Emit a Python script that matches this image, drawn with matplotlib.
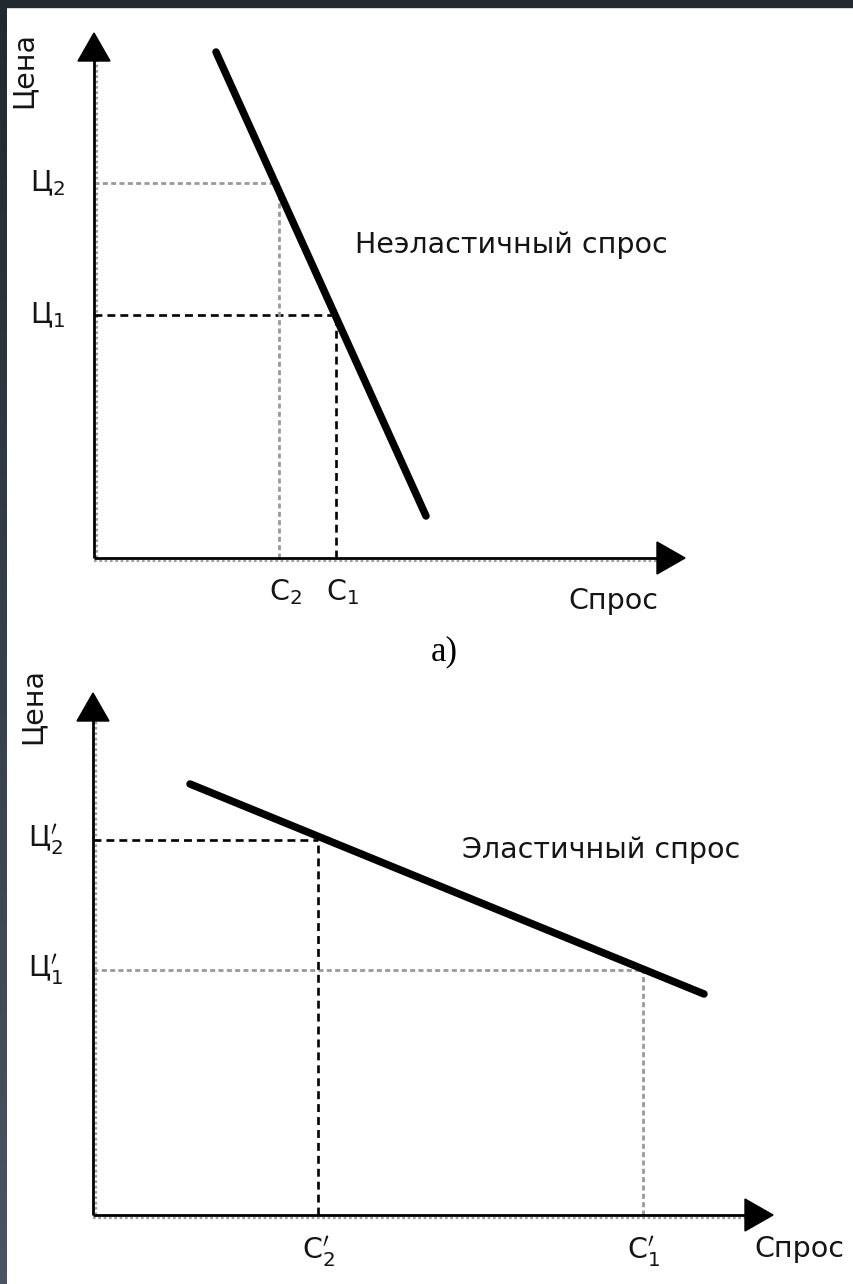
import numpy as np
import matplotlib
matplotlib.use("Agg")
import matplotlib.pyplot as plt
from matplotlib.patches import Polygon, Rectangle
from matplotlib.colors import LinearSegmentedColormap

FIG_W, FIG_H, DPI = 854, 1284, 100

# ---- panel a): inelastic demand (units measured from the panel origin) ----
a_demand_q = [122, 332]          # demand line end points, quantity
a_demand_p = [506, 42]           # demand line end points, price
a_price = [243, 375]             # Ц1, Ц2
a_qty = [242, 185]               # С1, С2
a_price_labels = ["Ц$_1$", "Ц$_2$"]
a_qty_labels = ["С$_1$", "С$_2$"]
a_curve_label = "Неэластичный спрос"
a_caption = "а)"

# ---- panel b): elastic demand ----
b_demand_q = [97, 611]
b_demand_p = [431, 221]
b_price = [245, 375]             # Ц1', Ц2'
b_qty = [550, 225]               # С1', С2'
b_price_labels = ["Ц$_1^{\\prime}$", "Ц$_2^{\\prime}$"]
b_qty_labels = ["С$_1^{\\prime}$", "С$_2^{\\prime}$"]
b_curve_label = "Эластичный спрос"

y_title = "Цена"
x_title = "Спрос"

plt.rcParams["font.family"] = ["DejaVu Sans"]
FS = 20.5
TXT = "#151515"
HEAD_LEN, HEAD_HALF = 28, 16

# guide line styles: black dashed / grey dotted
BLACK_DASH = dict(color="black", lw=1.9, ls=(0, (3.0, 1.9)))
GREY_DOT = dict(color="#999999", lw=2.0, ls=(0, (1.8, 1.2)))


def panel_axes(fig, ox, oy, w, h):
    """Axes whose data units are pixels, origin at (ox, oy) in image coords."""
    ax = fig.add_axes([ox / FIG_W, (FIG_H - oy) / FIG_H, w / FIG_W, h / FIG_H])
    ax.set_xlim(0, w)
    ax.set_ylim(0, h)
    ax.axis("off")
    return ax


def draw_frame(ax, x_len, y_len):
    # axis lines: black line with a grey dotted edge (as in the scanned figure)
    ax.plot([0, x_len - HEAD_LEN + 2], [0, 0], color="black", lw=2.0,
            solid_capstyle="butt", clip_on=False, zorder=3)
    ax.plot([0, 0], [0, y_len - HEAD_LEN + 2], color="black", lw=2.0,
            solid_capstyle="butt", clip_on=False, zorder=3)
    ax.plot([0, x_len - HEAD_LEN], [-2.8, -2.8], color="#a0a0a0", lw=1.6,
            ls=(0, (1.2, 1.2)), clip_on=False, zorder=2)
    ax.plot([2.8, 2.8], [0, y_len - HEAD_LEN], color="#a0a0a0", lw=1.6,
            ls=(0, (1.2, 1.2)), clip_on=False, zorder=2)
    # arrow heads
    ax.add_patch(Polygon([[x_len, 0], [x_len - HEAD_LEN, HEAD_HALF],
                          [x_len - HEAD_LEN, -HEAD_HALF]], closed=True,
                         color="black", clip_on=False, zorder=4))
    ax.add_patch(Polygon([[0, y_len], [-HEAD_HALF, y_len - HEAD_LEN],
                          [HEAD_HALF, y_len - HEAD_LEN]], closed=True,
                         color="black", clip_on=False, zorder=4))


def draw_panel(ax, demand_q, demand_p, price, qty, styles):
    for p, q, st in zip(price, qty, styles):
        ax.plot([0, q], [p, p], clip_on=False, zorder=2, **st)
        ax.plot([q, q], [0, p], clip_on=False, zorder=2, **st)
    ax.plot(demand_q, demand_p, color="black", lw=5.4,
            solid_capstyle="round", clip_on=False, zorder=5)


fig = plt.figure(figsize=(FIG_W / DPI, FIG_H / DPI), dpi=DPI)
fig.patch.set_facecolor("white")

# ---- dark frame strips on top and left ----
bg = fig.add_axes([0, 0, 1, 1], zorder=-1)
bg.set_xlim(0, FIG_W)
bg.set_ylim(FIG_H, 0)
bg.axis("off")
cmap = LinearSegmentedColormap.from_list("frame", ["#222931", "#4b5463"])
bg.imshow(np.linspace(0, 1, 256).reshape(-1, 1), cmap=cmap, aspect="auto",
          extent=[0, 7, FIG_H, 0])
bg.add_patch(Rectangle((0, 0), FIG_W, 7, color="#222931"))

# ---- panel a ----
ax_a = panel_axes(fig, 94, 558, 600, 530)
draw_frame(ax_a, 591, 525)
draw_panel(ax_a, a_demand_q, a_demand_p, a_price, a_qty, [BLACK_DASH, GREY_DOT])
for p, lab in zip(a_price, a_price_labels):
    ax_a.text(-64, p, lab, fontsize=FS, color=TXT, ha="left", va="center")
for q, lab in zip(a_qty, a_qty_labels):
    ax_a.text(q + 6, -34, lab, fontsize=FS, color=TXT, ha="center", va="center")
ax_a.text(-70, 488, y_title, fontsize=FS, color=TXT, rotation=90,
          ha="center", va="center")
ax_a.text(519, -43, x_title, fontsize=FS, color=TXT, ha="center", va="center")
ax_a.text(261, 313, a_curve_label, fontsize=FS, color=TXT, ha="left", va="center")
ax_a.text(350, -94, a_caption, fontsize=25, color="black",
          family="Liberation Serif", ha="center", va="center")

# ---- panel b ----
ax_b = panel_axes(fig, 93, 1215, 700, 530)
draw_frame(ax_b, 680, 522)
draw_panel(ax_b, b_demand_q, b_demand_p, b_price, b_qty, [GREY_DOT, BLACK_DASH])
for p, lab in zip(b_price, b_price_labels):
    ax_b.text(-65, p, lab, fontsize=FS, color=TXT, ha="left", va="center")
for q, lab in zip(b_qty, b_qty_labels):
    ax_b.text(q, -37, lab, fontsize=FS, color=TXT, ha="center", va="center")
ax_b.text(-60, 509, y_title, fontsize=FS, color=TXT, rotation=90,
          ha="center", va="center")
ax_b.text(706, -34, x_title, fontsize=FS, color=TXT, ha="center", va="center")
ax_b.text(369, 365, b_curve_label, fontsize=FS, color=TXT, ha="left", va="center")

fig.savefig("out.png", dpi=DPI)
